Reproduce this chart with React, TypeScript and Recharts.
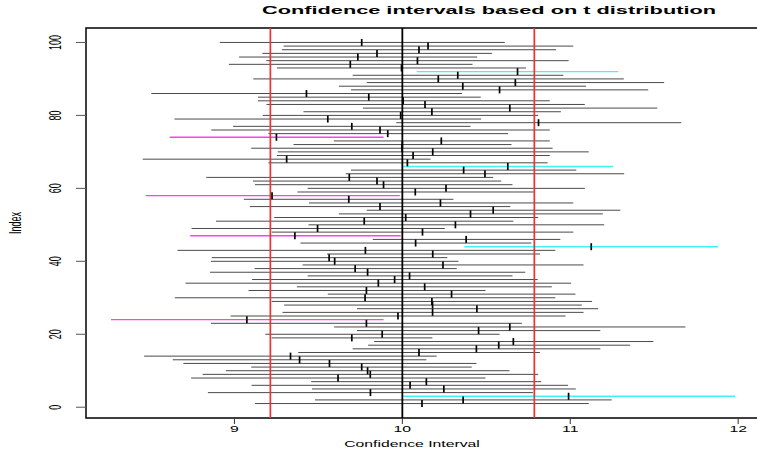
import React from 'react';
import { ScatterChart, Scatter, XAxis, YAxis, ReferenceLine, ReferenceArea } from 'recharts';

// 100 t-based confidence intervals (index 1..100)
const lower = [
  9.122, 9.48, 10.002, 8.842, 9.462, 9.102, 9.457, 8.742, 8.811, 8.949,
  9.1, 8.696, 8.633, 8.462, 9.38, 9.704, 9.796, 9.832, 9.222, 9.184,
  9.73, 9.594, 8.86, 8.265, 8.977, 9.286, 9.73, 9.296, 9.222, 8.645,
  9.556, 9.084, 9.372, 8.709, 9.105, 9.436, 8.855, 9.12, 9.406, 8.86,
  8.865, 9.551, 8.661, 10.37, 9.393, 9.824, 8.737, 9.222, 8.745, 9.441,
  8.89, 9.237, 9.622, 9.788, 9.092, 9.444, 9.056, 8.472, 9.375, 9.436,
  9.122, 9.11, 8.832, 9.663, 9.694, 10.002, 9.202, 8.454, 9.253, 9.258,
  9.1, 9.352, 9.592, 8.615, 9.202, 8.862, 8.992, 9.964, 8.643, 9.168,
  9.411, 9.765, 9.191, 9.14, 9.14, 8.505, 9.694, 9.622, 9.788, 9.112,
  9.704, 10.087, 9.253, 8.967, 9.19, 9.028, 9.166, 9.283, 9.293, 8.913,
];

const means = [
  10.117, 10.362, 10.99, 9.81, 10.247, 10.046, 10.143, 9.617, 9.809, 9.793,
  9.758, 9.566, 9.388, 9.334, 10.099, 10.441, 10.574, 10.661, 9.699, 9.88,
  10.454, 10.64, 9.786, 9.074, 9.974, 10.18, 10.444, 10.18, 10.176, 9.778,
  10.293, 9.786, 10.133, 9.857, 9.954, 10.043, 9.793, 9.719, 10.242, 9.597,
  9.564, 10.181, 9.78, 11.125, 10.079, 10.38, 9.36, 10.12, 9.495, 10.316,
  9.773, 10.02, 10.406, 10.541, 9.867, 10.227, 9.681, 9.224, 10.077, 10.26,
  9.888, 9.849, 9.684, 10.492, 10.365, 10.628, 10.03, 9.311, 10.064, 10.181,
  9.998, 10.0, 10.232, 9.25, 9.913, 9.867, 9.699, 10.811, 9.556, 9.99,
  10.176, 10.64, 10.135, 10.005, 9.8, 9.429, 10.579, 10.36, 10.673, 10.214,
  10.33, 10.686, 9.995, 9.69, 10.09, 9.735, 9.849, 10.099, 10.153, 9.758,
];

const upper = [
  11.11, 11.247, 11.982, 10.778, 11.033, 10.987, 10.827, 10.495, 10.809, 10.638,
  10.413, 10.441, 10.143, 10.204, 10.819, 11.179, 11.357, 11.495, 10.179, 10.579,
  11.179, 11.686, 10.712, 9.888, 10.972, 11.079, 11.166, 11.069, 11.13, 10.911,
  11.031, 10.495, 10.89, 11.005, 10.806, 10.656, 10.732, 10.324, 11.079, 10.334,
  10.268, 10.819, 10.911, 11.88, 10.768, 10.941, 9.99, 11.018, 10.253, 11.202,
  10.661, 10.809, 11.194, 11.298, 10.643, 11.018, 10.304, 9.985, 10.783, 11.087,
  10.656, 10.589, 10.541, 11.321, 11.036, 11.255, 10.865, 10.168, 10.878, 11.11,
  10.895, 10.65, 10.878, 9.888, 10.63, 10.878, 10.406, 11.661, 10.469, 10.809,
  10.944, 11.518, 11.087, 10.878, 10.467, 10.355, 11.464, 11.094, 11.559, 11.319,
  10.959, 11.286, 10.737, 10.418, 10.99, 10.446, 10.533, 10.916, 11.018, 10.61,
];

const mu = 10;
const redLines = [9.214, 10.786];
const xTicks = [9, 10, 11, 12];
const yTicks = [0, 20, 40, 60, 80, 100];

const X_DOMAIN: [number, number] = [8.116, 12.13];
const Y_DOMAIN: [number, number] = [-2.96, 103.96];
const FONT = '"Liberation Sans", Arial, Helvetica, sans-serif';
// the original render is stretched sideways, text included
const STRETCH = 1.75;

const intervals = means.map((m, i) => ({ idx: i + 1, lo: lower[i], mean: m, hi: upper[i] }));

// cyan = interval above mu, magenta = interval below mu
const lineColor = (d: { lo: number; hi: number }) =>
  d.lo > mu ? '#3ff4f4' : d.hi < mu ? '#ff3cff' : '#4a4a4a';

const XTick = ({ x, y, payload }: any) => (
  <g transform={`translate(${x},${y}) scale(${STRETCH},1)`}>
    <text x={0} y={0} dy="0.71em" textAnchor="middle" fontSize={9} fontFamily={FONT} fill="#000">
      {payload.value}
    </text>
  </g>
);

const YTick = ({ y, payload }: any) => (
  <g transform={`translate(55,${y}) rotate(-90) scale(1,${STRETCH})`}>
    <text x={0} y={0} dy="0.35em" textAnchor="middle" fontSize={9} fontFamily={FONT} fill="#000">
      {payload.value}
    </text>
  </g>
);

const MeanTick = (props: any) => {
  const { cx, cy } = props;
  return <line x1={cx} x2={cx} y1={cy - 3.5} y2={cy + 3.5} stroke="#000" strokeWidth={1.7} />;
};

const App = () => {
  return (
    <div style={{ position: 'absolute', left: 0, top: 0, width: 757, height: 452, overflow: 'hidden', background: '#fff' }}>
      <ScatterChart width={762} height={452} margin={{ top: 28, right: 2, bottom: 0, left: 0 }}>
        <XAxis
          type="number"
          dataKey="mean"
          domain={X_DOMAIN}
          ticks={xTicks}
          interval={0}
          allowDataOverflow
          height={34}
          tickSize={6}
          axisLine={false}
          tickLine={{ stroke: '#333' }}
          tick={<XTick />}
        />
        <YAxis
          type="number"
          dataKey="idx"
          domain={Y_DOMAIN}
          ticks={yTicks}
          interval={0}
          allowDataOverflow
          width={86}
          tickSize={10}
          axisLine={false}
          tickLine={{ stroke: '#555' }}
          tick={<YTick />}
        />
        <ReferenceArea
          x1={X_DOMAIN[0]}
          x2={X_DOMAIN[1]}
          y1={Y_DOMAIN[0]}
          y2={Y_DOMAIN[1]}
          fill="none"
          stroke="#000"
          strokeWidth={1.5}
        />
        {intervals.map((d) => (
          <ReferenceLine
            key={`ci-${d.idx}`}
            segment={[{ x: d.lo, y: d.idx }, { x: d.hi, y: d.idx }]}
            stroke={lineColor(d)}
            strokeWidth={d.lo > mu || d.hi < mu ? 1.4 : 1}
          />
        ))}
        <ReferenceLine x={mu} stroke="#000" strokeWidth={1.8} />
        {redLines.map((v) => (
          <ReferenceLine key={`red-${v}`} x={v} stroke="#ee3333" strokeWidth={1.7} />
        ))}
        <Scatter data={intervals} shape={<MeanTick />} isAnimationActive={false} />
      </ScatterChart>

      <svg width={757} height={452} style={{ position: 'absolute', left: 0, top: 0, pointerEvents: 'none' }}>
        <text
          x={262}
          y={14}
          textLength={454}
          lengthAdjust="spacingAndGlyphs"
          fontSize={10.5}
          fontWeight="bold"
          fontFamily={FONT}
          fill="#000"
        >
          Confidence intervals based on t distribution
        </text>
        <g transform={`translate(412,447) scale(${STRETCH},1)`}>
          <text textAnchor="middle" fontSize={9} fontFamily={FONT} fill="#000">
            Confidence Interval
          </text>
        </g>
        <g transform={`translate(15,223) rotate(-90) scale(1,${STRETCH})`}>
          <text textAnchor="middle" dy="0.35em" fontSize={9} fontFamily={FONT} fill="#000">
            Index
          </text>
        </g>
      </svg>
    </div>
  );
};

export default App;
